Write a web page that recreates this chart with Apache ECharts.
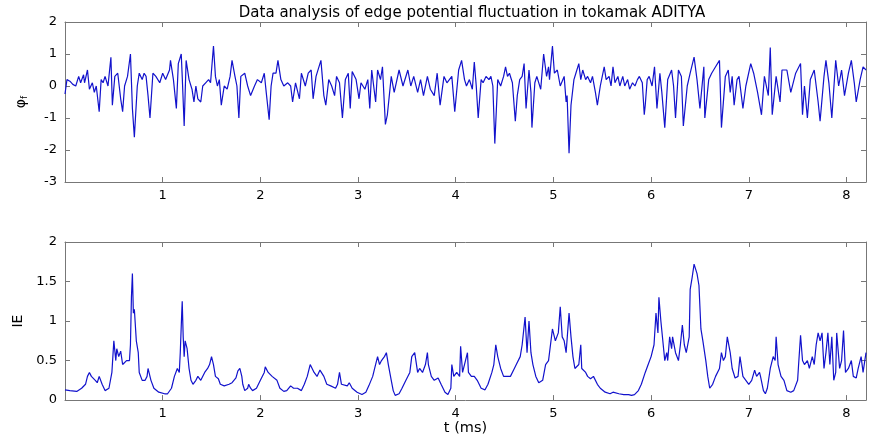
<!DOCTYPE html>
<html>
<head>
<meta charset="utf-8">
<script src="https://cdn.jsdelivr.net/npm/echarts@6/dist/echarts.min.js"></script>
<style>
  html, body { margin: 0; padding: 0; background: #fff; }
  #chart { width: 869px; height: 437px; }
</style>
</head>
<body>
<div id="chart"></div>
<script>
// edge potential fluctuation (top panel)
var tPhi = [0.00,0.02,0.05,0.08,0.11,0.14,0.16,0.19,0.20,0.23,0.25,0.28,0.30,0.32,0.35,0.37,0.39,0.41,0.44,0.47,0.485,0.51,0.54,0.57,0.59,0.61,0.64,0.67,0.69,0.71,0.74,0.76,0.79,0.81,0.83,0.85,0.87,0.90,0.93,0.97,
  1.00,1.03,1.07,1.08,1.11,1.14,1.16,1.19,1.20,1.22,1.24,1.27,1.30,1.32,1.34,1.36,1.39,1.41,1.44,1.47,1.49,1.52,1.54,1.56,1.58,1.60,1.63,1.66,1.69,1.71,1.74,1.76,1.78,1.80,1.84,1.87,1.90,1.94,1.97,
  2.01,2.04,2.06,2.09,2.11,2.13,2.16,2.18,2.21,2.24,2.28,2.31,2.33,2.36,2.40,2.42,2.46,2.49,2.52,2.54,2.57,2.62,2.65,2.67,2.70,2.73,2.76,2.78,2.81,2.84,2.87,2.90,2.92,2.94,2.98,
  3.01,3.03,3.07,3.10,3.12,3.14,3.18,3.20,3.23,3.25,3.28,3.30,3.34,3.37,3.42,3.46,3.51,3.54,3.57,3.61,3.64,3.67,3.71,3.74,3.78,3.81,3.84,3.88,3.91,3.96,3.99,
  4.03,4.06,4.09,4.11,4.14,4.17,4.19,4.21,4.23,4.26,4.28,4.31,4.34,4.36,4.38,4.40,4.43,4.46,4.49,4.51,4.53,4.55,4.58,4.61,4.63,4.655,4.68,4.70,4.72,4.75,4.77,4.78,4.81,4.83,4.87,4.90,4.93,4.95,4.96,4.99,
  5.01,5.04,5.07,5.11,5.13,5.14,5.16,5.18,5.21,5.23,5.26,5.28,5.30,5.33,5.35,5.38,5.40,5.43,5.45,5.48,5.50,5.52,5.54,5.57,5.59,5.61,5.63,5.66,5.68,5.71,5.73,5.76,5.78,5.81,5.835,5.86,5.88,5.91,5.93,5.94,5.96,5.98,
  6.01,6.035,6.06,6.09,6.11,6.14,6.17,6.21,6.23,6.25,6.28,6.31,6.33,6.37,6.40,6.44,6.47,6.50,6.54,6.55,6.59,6.62,6.66,6.70,6.72,6.76,6.79,6.81,6.83,6.85,6.88,6.90,6.94,6.97,
  7.02,7.05,7.09,7.13,7.16,7.20,7.22,7.24,7.28,7.32,7.34,7.39,7.43,7.48,7.53,7.55,7.57,7.60,7.63,7.67,7.71,7.73,7.77,7.79,7.82,7.85,7.89,7.92,7.95,7.98,
  8.02,8.05,8.08,8.10,8.14,8.17,8.20];
var phi = [-0.25,0.2,0.15,0.05,0.0,0.3,0.1,0.35,0.1,0.5,-0.1,0.1,-0.2,0.0,-0.8,0.2,0.1,0.3,0.0,0.9,-0.6,0.3,0.4,-0.4,-0.8,0.0,0.3,1.0,-0.7,-1.6,0.0,0.4,0.2,0.4,0.3,-0.3,-1.0,0.4,0.3,0.1,
  0.4,0.2,0.5,0.8,0.2,-0.7,0.7,1.0,0.3,-1.25,0.8,0.2,-0.1,-0.5,0.0,-0.4,-0.5,0.0,0.1,0.2,0.1,1.25,0.3,0.0,0.2,-0.6,0.0,-0.1,0.3,0.8,0.3,0.0,-1.0,0.3,0.4,0.0,-0.3,0.0,0.2,
  0.1,0.4,-0.2,-1.05,0.0,0.4,0.4,0.8,0.2,0.0,0.1,0.0,-0.5,0.1,-0.4,0.4,0.0,0.4,0.5,-0.4,0.3,0.8,-0.3,-0.6,0.2,0.0,-0.3,0.3,0.1,-1.0,0.2,0.4,-0.7,0.45,0.2,
  -0.4,0.1,-0.1,0.2,-0.7,0.5,-0.5,0.5,0.2,0.6,-1.2,-0.9,0.3,-0.2,0.5,0.0,0.5,0.0,0.3,-0.2,0.2,-0.3,0.3,-0.1,-0.3,0.4,-0.6,0.3,0.1,0.3,-0.8,
  0.5,0.8,0.2,0.0,0.2,-0.1,0.75,0.0,-1.0,0.2,0.1,0.3,0.2,0.3,0.0,-1.8,0.2,0.0,0.3,0.6,0.3,0.4,0.1,-1.1,-0.3,0.2,0.3,0.7,-0.7,0.5,-0.2,-1.3,0.1,0.3,-0.1,1.0,0.3,0.6,0.2,1.25,
  0.4,0.5,0.0,0.3,-0.5,-0.3,-2.1,-0.6,0.2,0.4,0.7,0.2,0.5,0.2,0.3,0.1,0.3,-0.2,-0.6,0.0,0.3,0.6,0.2,0.3,0.0,0.6,0.1,0.3,0.0,0.3,0.0,0.2,-0.1,0.1,0.0,0.2,0.3,0.1,-0.9,-0.6,0.2,0.3,
  0.0,0.6,-0.7,0.4,-0.2,-1.3,0.2,0.5,0.0,-1.0,0.5,0.3,-1.25,0.0,0.4,0.9,0.2,-0.7,0.6,-1.0,0.2,0.4,0.6,0.8,-1.3,0.3,0.5,-0.2,0.3,-0.6,0.2,0.3,-0.7,0.0,
  0.7,0.4,-0.2,-0.9,0.3,-0.3,1.2,-0.9,0.3,-0.5,0.5,0.5,-0.2,0.4,0.7,-0.9,0.0,-1.0,0.2,0.5,-0.5,-1.1,0.3,0.8,0.1,-1.0,0.8,0.0,0.5,-0.3,
  0.4,0.8,0.1,-0.5,0.2,0.6,0.5];

// |E| (bottom panel)
var tIE = [0.00,0.05,0.12,0.17,0.21,0.23,0.25,0.27,0.31,0.33,0.35,0.38,0.41,0.43,0.45,0.48,0.49,0.50,0.52,0.53,0.55,0.57,0.59,0.61,0.63,0.66,0.67,0.68,0.69,0.70,0.71,0.73,0.75,0.76,0.79,0.82,0.84,0.85,0.88,0.91,0.96,
  1.02,1.05,1.09,1.12,1.15,1.17,1.18,1.195,1.20,1.21,1.22,1.23,1.25,1.27,1.29,1.31,1.34,1.36,1.39,1.43,1.46,1.48,1.50,1.52,1.54,1.57,1.59,1.63,1.68,1.71,1.75,1.77,1.79,1.81,1.82,1.84,1.87,1.88,1.90,1.92,1.96,
  2.00,2.04,2.05,2.08,2.12,2.17,2.20,2.24,2.27,2.31,2.34,2.38,2.42,2.45,2.48,2.51,2.55,2.58,2.61,2.65,2.68,2.72,2.77,2.79,2.81,2.83,2.85,2.89,2.91,2.94,2.99,
  3.04,3.08,3.11,3.15,3.17,3.20,3.22,3.24,3.27,3.29,3.31,3.34,3.36,3.38,3.42,3.45,3.49,3.53,3.55,3.58,3.61,3.63,3.66,3.69,3.71,3.72,3.75,3.78,3.82,3.85,3.89,3.92,3.95,3.96,3.98,
  4.01,4.04,4.05,4.07,4.09,4.12,4.13,4.16,4.19,4.22,4.26,4.30,4.33,4.37,4.39,4.41,4.43,4.46,4.49,4.53,4.56,4.60,4.62,4.66,4.68,4.71,4.73,4.75,4.77,4.79,4.82,4.85,4.89,4.92,4.95,4.99,
  5.02,5.05,5.07,5.09,5.11,5.13,5.16,5.18,5.20,5.22,5.26,5.28,5.29,5.33,5.35,5.38,5.41,5.45,5.48,5.53,5.58,5.61,5.67,5.72,5.77,5.80,5.83,5.87,5.90,5.94,5.97,
  6.00,6.03,6.05,6.07,6.08,6.10,6.12,6.14,6.16,6.17,6.19,6.21,6.22,6.25,6.28,6.30,6.32,6.34,6.36,6.39,6.40,6.42,6.44,6.46,6.47,6.49,6.51,6.53,6.56,6.58,6.60,6.63,6.66,6.70,6.72,6.74,6.76,6.78,6.81,6.83,6.86,6.89,6.91,6.94,6.97,
  7.00,7.03,7.06,7.08,7.11,7.12,7.15,7.17,7.19,7.22,7.25,7.27,7.28,7.30,7.33,7.36,7.39,7.43,7.46,7.50,7.51,7.53,7.55,7.57,7.60,7.62,7.65,7.67,7.69,7.71,7.73,7.75,7.77,7.79,7.81,7.83,7.85,7.87,7.89,7.90,7.93,7.95,7.97,7.99,
  8.02,8.05,8.07,8.10,8.12,8.15,8.17,8.20];
var ie = [0.13,0.12,0.11,0.15,0.2,0.3,0.35,0.3,0.25,0.22,0.3,0.2,0.12,0.1,0.15,0.35,0.55,0.75,0.5,0.65,0.55,0.62,0.45,0.45,0.5,0.5,0.7,1.3,1.6,1.1,1.15,0.75,0.6,0.35,0.25,0.25,0.3,0.4,0.25,0.15,0.1,
  0.08,0.08,0.15,0.3,0.4,0.35,0.6,1.1,1.25,0.8,0.55,0.75,0.65,0.4,0.25,0.2,0.25,0.3,0.25,0.35,0.4,0.45,0.55,0.45,0.3,0.27,0.2,0.18,0.2,0.22,0.28,0.37,0.4,0.3,0.2,0.12,0.15,0.2,0.15,0.12,0.15,
  0.25,0.35,0.42,0.35,0.3,0.25,0.15,0.11,0.12,0.18,0.15,0.15,0.12,0.2,0.3,0.45,0.35,0.3,0.38,0.3,0.2,0.18,0.15,0.2,0.35,0.2,0.22,0.18,0.22,0.15,0.1,
  0.07,0.1,0.18,0.3,0.4,0.55,0.45,0.5,0.55,0.6,0.45,0.25,0.12,0.06,0.08,0.15,0.25,0.35,0.55,0.6,0.35,0.4,0.35,0.45,0.6,0.45,0.3,0.25,0.28,0.2,0.1,0.07,0.15,0.45,0.3,
  0.35,0.3,0.68,0.35,0.35,0.6,0.35,0.3,0.3,0.25,0.15,0.13,0.2,0.35,0.45,0.7,0.55,0.4,0.3,0.3,0.3,0.4,0.45,0.55,0.7,1.05,0.6,1.0,0.6,0.45,0.3,0.22,0.25,0.45,0.5,0.9,
  0.75,0.85,1.18,0.8,0.75,0.6,1.1,0.8,0.55,0.4,0.45,0.7,0.4,0.35,0.3,0.27,0.3,0.2,0.15,0.1,0.08,0.1,0.08,0.07,0.07,0.06,0.07,0.12,0.2,0.35,0.45,
  0.55,0.7,1.1,0.85,1.3,1.0,0.75,0.5,0.6,0.5,0.8,0.65,0.8,0.6,0.5,0.7,0.95,0.7,0.6,0.8,1.4,1.55,1.72,1.7,1.6,1.45,0.9,0.75,0.5,0.3,0.15,0.2,0.3,0.4,0.6,0.5,0.55,0.8,0.6,0.4,0.28,0.3,0.55,0.3,0.25,
  0.2,0.25,0.38,0.3,0.35,0.3,0.12,0.08,0.15,0.4,0.55,0.5,0.8,0.45,0.3,0.25,0.12,0.1,0.12,0.25,0.45,0.82,0.5,0.45,0.5,0.4,0.55,0.45,0.7,0.85,0.75,0.85,0.4,0.6,0.85,0.45,0.8,0.25,0.35,0.85,0.4,0.5,0.88,0.35,
  0.4,0.5,0.3,0.28,0.4,0.55,0.35,0.6];

var phiTicks = [-3, -2, -1, 0, 1, 2];
var ieTicks = [0, 0.5, 1, 1.5, 2];

function zip(xs, ys) {
  return xs.map(function (x, i) { return [x, ys[i]]; });
}

var font = 'DejaVu Sans';
var frame = { show: true, onZero: false, lineStyle: { color: '#777', width: 1 } };
var tick = { show: true, inside: true, length: 5, lineStyle: { color: '#777' } };
var lbl = { color: '#000', fontSize: 13, fontFamily: font };

function tAxis(grid, pos, labels, name) {
  return {
    type: 'value', gridIndex: grid, position: pos, min: 0, max: 8.2, interval: 1,
    axisLine: frame, axisTick: tick, splitLine: { show: false },
    axisLabel: labels ? Object.assign({ margin: 7, formatter: function (v) {
      return (v > 0 && v === Math.round(v)) ? String(v) : '';
    } }, lbl) : { show: false },
    name: name || '', nameLocation: 'middle', nameGap: 17,
    nameTextStyle: { color: '#000', fontSize: 14.5, fontFamily: font }
  };
}

function vAxis(grid, pos, ticks, labels, name, rich) {
  return {
    type: 'value', gridIndex: grid, position: pos,
    min: ticks[0], max: ticks[ticks.length - 1], interval: ticks[1] - ticks[0],
    axisLine: frame, axisTick: tick, splitLine: { show: false },
    axisLabel: labels ? Object.assign({ margin: 8 }, lbl) : { show: false },
    name: name || '', nameLocation: 'middle', nameGap: 36,
    nameTextStyle: { color: '#000', fontSize: 14, fontFamily: font, rich: rich || {} }
  };
}

var chart = echarts.init(document.getElementById('chart'));
chart.setOption({
  animation: false,
  backgroundColor: '#fff',
  title: {
    text: 'Data analysis of edge potential fluctuation in tokamak ADITYA',
    left: 467, top: 1, textAlign: 'center',
    textStyle: { color: '#000', fontSize: 15, fontWeight: 'normal', fontFamily: font }
  },
  grid: [
    { left: 65, top: 22, width: 803, height: 160 },
    { left: 65, top: 242, width: 803, height: 160 }
  ],
  xAxis: [
    tAxis(0, 'bottom', true),
    tAxis(0, 'top', false),
    tAxis(1, 'bottom', true, 't (ms)'),
    tAxis(1, 'top', false)
  ],
  yAxis: [
    vAxis(0, 'left', phiTicks, true, '{a|φ}{b|f}', {
      a: { fontSize: 14, fontFamily: font, color: '#000' },
      b: { fontSize: 9, fontFamily: font, color: '#000', padding: [7, 0, 0, 0] }
    }),
    vAxis(0, 'right', phiTicks, false),
    vAxis(1, 'left', ieTicks, true, 'IE'),
    vAxis(1, 'right', ieTicks, false)
  ],
  series: [
    {
      type: 'line', xAxisIndex: 0, yAxisIndex: 0, data: zip(tPhi, phi),
      showSymbol: false, lineStyle: { color: '#1212cc', width: 1.2 }
    },
    {
      type: 'line', xAxisIndex: 2, yAxisIndex: 2, data: zip(tIE, ie),
      showSymbol: false, lineStyle: { color: '#1212cc', width: 1.2 }
    }
  ]
});
</script>
</body>
</html>
